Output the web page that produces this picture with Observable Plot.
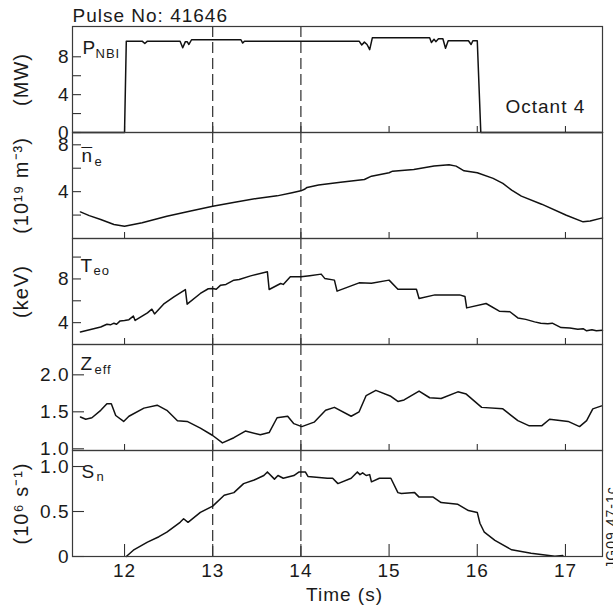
<!DOCTYPE html>
<html><head><meta charset="utf-8">
<script src="https://cdn.jsdelivr.net/npm/d3@7"></script>
<script src="https://cdn.jsdelivr.net/npm/@observablehq/plot@0.6"></script>
<style>
body{margin:0;background:#fff;}
#chart{position:relative;width:613px;height:613px;overflow:hidden;background:#fff;}
#chart svg{position:absolute;left:0;}
</style></head><body><div id="chart"></div>
<script>
// ---- data (time in s, value) ----
const timeTicks = [12, 13, 14, 15, 16, 17];
const markerTimes = [13, 14];

const pnbi = [[11.42,0],[12.0,0],[12.02,9.65],[12.2,9.65],[12.23,9.4],[12.26,9.65],[12.63,9.65],[12.66,8.95],[12.69,9.6],[12.71,9.6],[12.73,9.3],[12.76,9.8],[13.32,9.8],[13.34,9.45],[13.36,9.65],[14.66,9.65],[14.69,9.25],[14.72,9.55],[14.75,9.3],[14.78,8.75],[14.81,10.0],[15.46,10.0],[15.48,9.5],[15.51,9.85],[15.53,9.6],[15.56,9.9],[15.61,9.9],[15.64,8.9],[15.67,9.7],[15.9,9.7],[15.93,9.3],[15.95,9.7],[16.0,9.7],[16.04,0],[17.42,0]];

const ne = [[11.5,2.27],[11.6,1.95],[11.73,1.62],[11.88,1.2],[12.0,1.05],[12.2,1.35],[12.48,1.9],[12.75,2.35],[13.0,2.76],[13.25,3.1],[13.5,3.42],[13.73,3.64],[13.9,3.9],[14.0,4.07],[14.04,4.2],[14.07,4.36],[14.2,4.56],[14.45,4.8],[14.72,5.04],[14.8,5.32],[15.0,5.61],[15.04,5.75],[15.28,5.9],[15.51,6.18],[15.68,6.29],[15.76,6.18],[15.85,5.78],[16.0,5.61],[16.18,5.13],[16.29,4.7],[16.39,4.13],[16.5,3.62],[16.73,2.93],[17.01,1.99],[17.2,1.42],[17.28,1.5],[17.42,1.76]];

const teo = [[11.5,3.15],[11.73,3.6],[11.8,3.85],[11.84,3.8],[11.88,3.95],[11.91,3.85],[11.95,4.16],[12.0,4.2],[12.05,4.27],[12.1,4.6],[12.12,4.2],[12.26,4.9],[12.31,5.23],[12.34,4.8],[12.45,5.75],[12.56,6.36],[12.69,7.03],[12.71,5.69],[12.86,6.67],[12.95,7.1],[13.0,7.13],[13.04,7.05],[13.09,7.43],[13.15,7.5],[13.24,7.89],[13.3,7.95],[13.43,8.28],[13.62,8.65],[13.64,7.03],[13.77,7.58],[13.8,7.5],[13.88,8.2],[14.0,8.2],[14.1,8.3],[14.23,8.44],[14.27,8.05],[14.38,7.89],[14.41,6.88],[14.66,7.64],[14.8,7.6],[15.0,7.89],[15.1,7.06],[15.31,7.06],[15.34,6.21],[15.52,6.54],[15.8,6.54],[15.86,6.4],[15.88,5.35],[16.1,5.75],[16.25,5.05],[16.37,5.0],[16.46,4.43],[16.55,4.3],[16.65,4.07],[16.72,3.95],[16.8,3.9],[16.85,3.95],[16.95,3.55],[17.05,3.5],[17.14,3.39],[17.2,3.45],[17.24,3.25],[17.3,3.35],[17.35,3.25],[17.42,3.3]];

const zeff = [[11.5,1.43],[11.56,1.40],[11.63,1.42],[11.73,1.52],[11.8,1.61],[11.85,1.61],[11.9,1.45],[11.99,1.37],[12.05,1.44],[12.22,1.55],[12.37,1.59],[12.48,1.52],[12.6,1.38],[12.71,1.37],[12.86,1.28],[13.0,1.18],[13.11,1.08],[13.24,1.15],[13.37,1.24],[13.54,1.19],[13.64,1.22],[13.73,1.42],[13.85,1.44],[13.92,1.34],[14.01,1.30],[14.15,1.36],[14.28,1.52],[14.38,1.56],[14.57,1.44],[14.66,1.50],[14.74,1.72],[14.85,1.79],[15.02,1.71],[15.1,1.64],[15.17,1.66],[15.34,1.78],[15.46,1.69],[15.59,1.68],[15.78,1.77],[15.875,1.74],[16.05,1.56],[16.29,1.54],[16.46,1.38],[16.59,1.31],[16.73,1.31],[16.82,1.40],[17.03,1.37],[17.16,1.30],[17.24,1.38],[17.31,1.54],[17.41,1.58]];

const sn = [[12.02,0],[12.1,0.07],[12.26,0.16],[12.39,0.22],[12.48,0.27],[12.63,0.38],[12.67,0.42],[12.72,0.38],[12.86,0.49],[13.0,0.56],[13.13,0.68],[13.24,0.71],[13.35,0.81],[13.47,0.85],[13.58,0.90],[13.62,0.94],[13.7,0.86],[13.74,0.90],[13.8,0.87],[13.92,0.90],[13.98,0.94],[14.05,0.94],[14.08,0.89],[14.3,0.87],[14.36,0.87],[14.42,0.81],[14.57,0.87],[14.64,0.94],[14.67,0.91],[14.7,0.93],[14.74,0.90],[14.78,0.91],[14.8,0.83],[14.89,0.87],[15.02,0.87],[15.1,0.71],[15.14,0.70],[15.29,0.71],[15.34,0.66],[15.5,0.66],[15.59,0.60],[15.78,0.58],[15.9,0.51],[16.0,0.49],[16.03,0.37],[16.08,0.27],[16.2,0.18],[16.39,0.074],[16.61,0.037],[16.88,0.004],[16.97,0.01]];

// tick labels
const pnbiTicks = [0,2,4,6,8], pnbiLabels = [0,4,8];
const neTicks = [2,4,6,8], neLabels = [4,8];
const teoTicks = [4,6,8,10], teoLabels = [4,8];
const zeffTicks = [1,1.5,2], zeffLabels = [1,1.5,2];
const snTicks = [0,0.5,1], snLabels = [0,0.5,1];

const title = "Pulse No: 41646";
const note = "Octant 4";
const xLabel = "Time (s)";
const code = "JG09.47-1c";

// ---- layout ----
const W = 613, ML = 72, MR = 11, PH = 106, TOP = 26;
const PW = W - ML - MR;
const FONT = "'Liberation Sans', Arial, Helvetica, sans-serif";
const INK = "#1a1a1a";

const panels = [
  {data: pnbi, yDomain:[0,11.2], yTicks:pnbiTicks, yLabels:pnbiLabels, fmt:d=>String(d), unit:"(MW)", name:"P", sub:"NBI", nameX:82, subX:95, base:27.3, subBase:31.3, tickLen:9},
  {data: ne, yDomain:[0,9.05], yTicks:neTicks, yLabels:neLabels, fmt:d=>String(d), unit:"(10¹⁹ m⁻³)", name:"n", sub:"e", nameX:81, subX:94, base:29.7, subBase:33.5, bar:true, tickLen:9},
  {data: teo, yDomain:[2.0,11.7], yTicks:teoTicks, yLabels:teoLabels, fmt:d=>String(d), unit:"(keV)", name:"T", sub:"eo", nameX:80, subX:93, base:33.7, subBase:36.5, tickLen:9},
  {data: zeff, yDomain:[0.977,2.41], yTicks:zeffTicks, yLabels:zeffLabels, fmt:d3.format(".1f"), unit:null, name:"Z", sub:"eff", nameX:80, subX:94, base:25.3, subBase:29.3, tickLen:12},
  {data: sn, yDomain:[0,1.178], yTicks:snTicks, yLabels:snLabels, fmt:d=>d===0?"0":d.toFixed(1), unit:"(10⁶ s⁻¹)", name:"S", sub:"n", nameX:81, subX:96, base:27.3, subBase:30, tickLen:12}
];

const chart = document.getElementById("chart");

panels.forEach((p, i) => {
  const first = i === 0, last = i === panels.length - 1;
  const mt = first ? TOP : 1, mb = last ? 57 : 1;
  const marks = [
    Plot.ruleX(markerTimes, {stroke: INK, strokeWidth: 1.1, strokeDasharray: "11,5"}),
    Plot.ruleX(timeTicks, {insetTop: PH - (last ? 12 : 6), stroke: "#333", strokeWidth: 1.1}),
    Plot.ruleY(p.yTicks, {insetRight: PW - p.tickLen, stroke: "#333", strokeWidth: 1.1}),
    Plot.axisY({ticks: p.yLabels, anchor: "left", tickSize: 0, tickPadding: 3, tickFormat: p.fmt, label: null, fontSize: 19, fill: INK}),
    Plot.line(p.data, {x: d => d[0], y: d => d[1], stroke: "#111", strokeWidth: 1.5, strokeLinejoin: "round"}),
    Plot.frame({stroke: "#3a3a3a", strokeWidth: 1.2}),
    Plot.text([p.name], {text: d => d, frameAnchor: "top-left", dx: p.nameX - ML, dy: p.base, lineAnchor: "bottom", textAnchor: "start", fontSize: 19, fill: INK}),
    Plot.text([p.sub], {text: d => d, frameAnchor: "top-left", dx: p.subX - ML, dy: p.subBase, lineAnchor: "bottom", textAnchor: "start", fontSize: 13, fill: INK})
  ];
  if (p.bar) marks.push(Plot.text(["¯"], {text: d => d, frameAnchor: "top-left", dx: p.nameX - ML, dy: 28.3, lineAnchor: "bottom", textAnchor: "start", fontSize: 19, fill: INK}));
  if (p.unit) marks.push(Plot.text([p.unit], {text: d => d, frameAnchor: "left", dx: -51, rotate: -90, textAnchor: "middle", lineAnchor: "middle", fontSize: 20, fill: INK}));
  if (first) {
    marks.push(Plot.text([title], {text: d => d, frameAnchor: "top-left", dx: 0, dy: -4.3, lineAnchor: "bottom", textAnchor: "start", fontSize: 19, fill: INK}));
    marks.push(Plot.text([note], {text: d => d, frameAnchor: "top-left", dx: 433, dy: 86.7, lineAnchor: "bottom", textAnchor: "start", fontSize: 19, fill: INK}));
  }
  if (last) {
    marks.push(Plot.axisX({ticks: timeTicks, anchor: "bottom", tickSize: 0, tickPadding: 7, tickFormat: d => String(d), label: null, fontSize: 19, fill: INK}));
    marks.push(Plot.text([xLabel], {text: d => d, frameAnchor: "bottom", dx: 7, dy: 44, lineAnchor: "bottom", textAnchor: "middle", fontSize: 19, fill: INK}));
    marks.push(Plot.text([code], {text: d => d, frameAnchor: "bottom-right", dx: 9, dy: -29, rotate: -90, textAnchor: "middle", lineAnchor: "middle", fontSize: 14, fill: INK}));
  }
  const svg = Plot.plot({
    width: W,
    height: mt + PH + mb,
    marginLeft: ML, marginRight: MR, marginTop: mt, marginBottom: mb,
    style: `font-family:${FONT};font-size:19px;letter-spacing:1px;background:transparent;overflow:visible;color:${INK};`,
    x: {domain: [11.41, 17.42], axis: last ? undefined : null},
    y: {domain: p.yDomain},
    marks
  });
  svg.style.position = "absolute";
  svg.style.top = (first ? 0 : TOP + PH * i - 1) + "px";
  svg.style.left = "0px";
  chart.appendChild(svg);
});
</script>
</body></html>
